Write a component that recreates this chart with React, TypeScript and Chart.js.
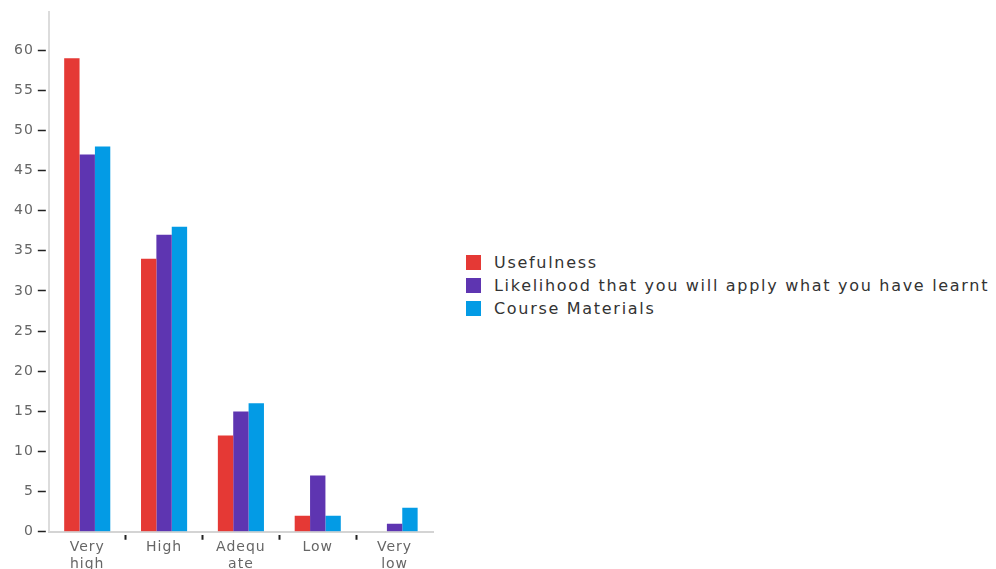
import React, { useEffect, useRef } from "react";
import { Chart, registerables } from "chart.js";

Chart.register(...registerables);

const categories: (string | string[])[] = [["Very", "high"], "High", ["Adequ", "ate"], "Low", ["Very", "low"]];
const usefulness = [59, 34, 12, 2, 0];
const likelihood = [47, 37, 15, 7, 1];
const courseMaterials = [48, 38, 16, 2, 3];
const seriesNames = ["Usefulness", "Likelihood that you will apply what you have learnt", "Course Materials"];
const colors = ["#e53935", "#5e35b1", "#039be5"];

const FONT = "'DejaVu Sans', sans-serif";

const spacingPlugin = {
  id: "letterSpacing",
  beforeInit(chart: any) {
    chart.ctx.letterSpacing = "1px";
  },
  beforeDraw(chart: any) {
    chart.ctx.letterSpacing = "1px";
  },
};

export default function App() {
  const ref = useRef<HTMLCanvasElement | null>(null);
  useEffect(() => {
    if (!ref.current) return;
    const chart = new Chart(ref.current, {
      type: "bar",
      data: {
        labels: categories,
        datasets: [usefulness, likelihood, courseMaterials].map((d, i) => ({
          label: seriesNames[i],
          data: d,
          backgroundColor: colors[i],
          borderWidth: 0,
          categoryPercentage: 0.6,
          barPercentage: 1.0,
        })),
      },
      plugins: [spacingPlugin],
      options: {
        animation: false,
        responsive: false,
        maintainAspectRatio: false,
        layout: { padding: { top: 10, left: 12, right: 1, bottom: 0 } },
        plugins: {
          tooltip: { enabled: false },
          legend: { display: false },
        },
        scales: {
          x: {
            grid: {
              display: true,
              drawOnChartArea: false,
              drawTicks: true,
              tickLength: 8,
              offset: true,
              tickColor: (ctx: any) =>
                ctx.type !== "tick" || ctx.index === 0 ? "rgba(0,0,0,0)" : "#222",
              tickWidth: 2,
              tickBorderDash: [0, 2, 6, 20],
            },
            border: { display: true, color: "#d4d4d4", width: 2 },
            ticks: {
              color: "#666",
              font: { family: FONT, size: 14, lineHeight: 1.15 },
              padding: 0,
              maxRotation: 0,
              autoSkip: false,
            },
          },
          y: {
            min: 0,
            max: 64.7,
            afterBuildTicks: (scale: any) => {
              scale.ticks = scale.ticks.filter((t: any) => t.value % 5 === 0);
            },
            grid: {
              display: true,
              drawOnChartArea: false,
              drawTicks: true,
              tickLength: 11,
              tickColor: "#222",
              tickWidth: 1.5,
              tickBorderDash: [8, 3],
            },
            border: { display: true, color: "#dcdcdc", width: 2 },
            ticks: { stepSize: 5, color: "#666", font: { family: FONT, size: 14 }, padding: 4 },
          },
        },
      } as any,
    });
    return () => chart.destroy();
  }, []);
  return (
    <div style={{ position: "fixed", left: 0, top: 0, width: 996, height: 580, background: "#fff" }}>
      <canvas
        ref={ref}
        width={434}
        height={572}
        style={{ position: "absolute", left: 0, top: 0, width: 434, height: 572 }}
      />
      <div style={{ position: "absolute", left: 466, top: 251 }}>
        {seriesNames.map((name, i) => (
          <div
            key={name}
            style={{
              display: "flex",
              alignItems: "center",
              height: 23,
              fontFamily: FONT,
              fontSize: 16,
              letterSpacing: "1.7px",
              color: "#333",
              whiteSpace: "nowrap",
            }}
          >
            <span
              style={{ display: "inline-block", width: 15, height: 15, background: colors[i], marginRight: 13 }}
            />
            {name}
          </div>
        ))}
      </div>
    </div>
  );
}
